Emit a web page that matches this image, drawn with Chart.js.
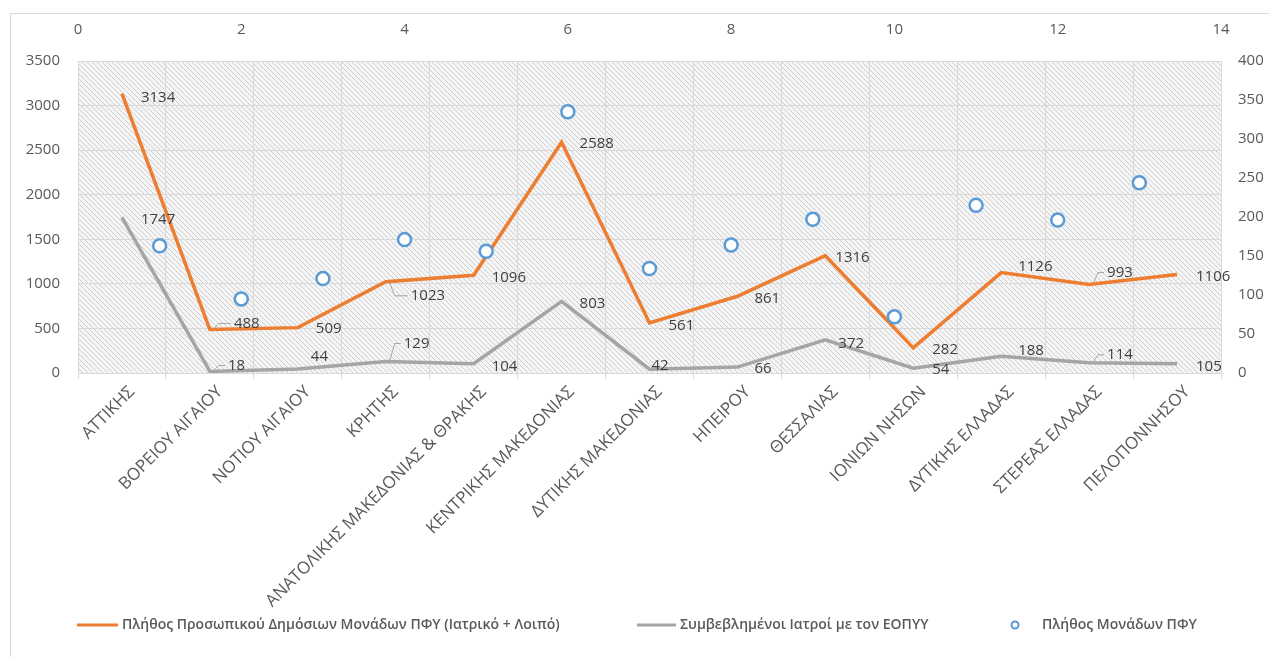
<!DOCTYPE html>
<html lang="el">
<head>
<meta charset="utf-8">
<title>Προσωπικό και Μονάδες ΠΦΥ ανά Περιφέρεια</title>
<script src="https://cdn.jsdelivr.net/npm/chart.js@4.4.1/dist/chart.umd.min.js"></script>
<style>
    html, body { margin: 0; padding: 0; background: #ffffff; }
    #wrap { position: relative; width: 1269px; height: 657px; }
</style>
</head>
<body>
<div id="wrap"><canvas id="pfyChart" width="1269" height="657"></canvas></div>
<script>
// Regions (category axis)
const regions = [
    'ΑΤΤΙΚΗΣ', 'ΒΟΡΕΙΟΥ ΑΙΓΑΙΟΥ', 'ΝΟΤΙΟΥ ΑΙΓΑΙΟΥ', 'ΚΡΗΤΗΣ',
    'ΑΝΑΤΟΛΙΚΗΣ ΜΑΚΕΔΟΝΙΑΣ & ΘΡΑΚΗΣ', 'ΚΕΝΤΡΙΚΗΣ ΜΑΚΕΔΟΝΙΑΣ', 'ΔΥΤΙΚΗΣ ΜΑΚΕΔΟΝΙΑΣ',
    'ΗΠΕΙΡΟΥ', 'ΘΕΣΣΑΛΙΑΣ', 'ΙΟΝΙΩΝ ΝΗΣΩΝ', 'ΔΥΤΙΚΗΣ ΕΛΛΑΔΑΣ', 'ΣΤΕΡΕΑΣ ΕΛΛΑΔΑΣ', 'ΠΕΛΟΠΟΝΝΗΣΟΥ'
];

// Staff of public PHC units (left axis)
const staff = [3134, 488, 509, 1023, 1096, 2588, 561, 861, 1316, 282, 1126, 993, 1106];
// Doctors contracted with EOPYY (left axis)
const contracted = [1747, 18, 44, 129, 104, 803, 42, 66, 372, 54, 188, 114, 105];
// Number of PHC units (right axis, plotted against the top 0-14 axis)
const unitPositions = [1, 2, 3, 4, 5, 6, 7, 8, 9, 10, 11, 12, 13];
const units = [163, 95, 121, 171, 156, 335, 134, 164, 197, 72, 215, 196, 244];

const seriesNames = [
    'Πλήθος Προσωπικού Δημόσιων Μονάδων ΠΦΥ (Ιατρικό + Λοιπό)',
    'Συμβεβλημένοι Ιατροί με τον ΕΟΠΥΥ',
    'Πλήθος Μονάδων ΠΦΥ'
];

// Axis ticks
const leftMax = 3500, leftStep = 500;
const rightMax = 400, rightStep = 50;
const topMax = 14, topStep = 2;

const ORANGE = '#ED7D31';
const GREY = '#A5A5A5';
const BLUE = '#5B9BD5';
const TEXT = '#595959';
const FONT = "'Open Sans', 'Noto Sans', sans-serif";

// Label offsets [dx, dy, leader] next to each point
const staffLabelPos = [
    [19, 4], [24, -6, 1], [18, 1], [25, 14, 1], [18, 2], [18, 1], [19, 3],
    [17, 2], [10, 2], [19, 2], [17, -6], [18, -12, 1], [19, 2]
];
const contractedLabelPos = [
    [19, 2], [18, -6, 1], [13, -12], [18, -18, 1], [18, 3], [18, 2], [2, -4],
    [17, 2], [13, 4], [19, 2], [17, -6], [18, -8, 1], [19, 3]
];

// Diagonal hatch behind the plot area
function makeHatch(ctx) {
    const tile = document.createElement('canvas');
    tile.width = 5;
    tile.height = 5;
    const t = tile.getContext('2d');
    t.fillStyle = '#F5F5F5';
    t.fillRect(0, 0, 5, 5);
    t.strokeStyle = '#CFCFCF';
    t.lineWidth = 1;
    t.beginPath();
    t.moveTo(-1, -1); t.lineTo(6, 6);
    t.moveTo(-1, 4); t.lineTo(1, 6);
    t.moveTo(4, -1); t.lineTo(6, 1);
    t.stroke();
    return ctx.createPattern(tile, 'repeat');
}

const plotBackground = {
    id: 'plotBackground',
    beforeDraw(chart) {
        const { ctx, chartArea: a } = chart;
        ctx.save();
        // outer chart frame
        ctx.strokeStyle = '#D9D9D9';
        ctx.lineWidth = 1;
        ctx.strokeRect(10.5, 13.5, chart.width, chart.height);
        ctx.fillStyle = makeHatch(ctx);
        ctx.fillRect(a.left, a.top, a.right - a.left, a.bottom - a.top);
        ctx.restore();
    }
};

const valueLabels = {
    id: 'valueLabels',
    afterDatasetsDraw(chart) {
        const ctx = chart.ctx;
        const sets = [[0, staff, staffLabelPos], [1, contracted, contractedLabelPos]];
        ctx.save();
        ctx.font = '15px ' + FONT;
        ctx.fillStyle = '#404040';
        ctx.textBaseline = 'middle';
        ctx.textAlign = 'left';
        sets.forEach(([idx, values, pos]) => {
            const meta = chart.getDatasetMeta(idx);
            meta.data.forEach((pt, i) => {
                const [dx, dy, leader] = pos[i];
                const x = pt.x, y = pt.y;
                if (leader) {
                    ctx.strokeStyle = '#A6A6A6';
                    ctx.lineWidth = 1;
                    ctx.beginPath();
                    ctx.moveTo(x + 4, y + Math.sign(dy) * 1);
                    ctx.lineTo(x + 9, y + dy);
                    ctx.lineTo(x + dx - 3, y + dy);
                    ctx.stroke();
                }
                ctx.fillText(String(values[i]), x + dx, y + dy);
            });
        });
        ctx.restore();
    }
};

// Legend drawn along the bottom edge
const bottomLegend = {
    id: 'bottomLegend',
    afterDraw(chart) {
        const ctx = chart.ctx;
        const y = 625;
        ctx.save();
        ctx.font = '600 14px ' + FONT;
        ctx.fillStyle = TEXT;
        ctx.textBaseline = 'middle';

        ctx.strokeStyle = ORANGE;
        ctx.lineWidth = 3;
        ctx.beginPath(); ctx.moveTo(77, y); ctx.lineTo(118, y); ctx.stroke();
        ctx.fillText(seriesNames[0], 122, y);

        ctx.strokeStyle = GREY;
        ctx.beginPath(); ctx.moveTo(637, y); ctx.lineTo(676, y); ctx.stroke();
        ctx.fillText(seriesNames[1], 680, y);

        ctx.strokeStyle = BLUE;
        ctx.lineWidth = 2;
        ctx.beginPath(); ctx.arc(1015, y, 3.5, 0, Math.PI * 2); ctx.stroke();
        ctx.fillText(seriesNames[2], 1042, y);
        ctx.restore();
    }
};

document.addEventListener('DOMContentLoaded', () => {
    const ctx = document.getElementById('pfyChart').getContext('2d');
    const tickFont = { family: FONT, size: 15 };
    const plain = (v) => String(v);

    new Chart(ctx, {
        data: {
            labels: regions,
            datasets: [
                {
                    type: 'line',
                    label: seriesNames[0],
                    data: staff,
                    borderColor: ORANGE,
                    borderWidth: 3.5,
                    pointRadius: 0,
                    tension: 0,
                    xAxisID: 'x',
                    yAxisID: 'y',
                    order: 2
                },
                {
                    type: 'line',
                    label: seriesNames[1],
                    data: contracted,
                    borderColor: GREY,
                    borderWidth: 3.5,
                    pointRadius: 0,
                    tension: 0,
                    xAxisID: 'x',
                    yAxisID: 'y',
                    order: 3
                },
                {
                    type: 'scatter',
                    label: seriesNames[2],
                    data: unitPositions.map((p, i) => ({ x: p, y: units[i] })),
                    borderColor: BLUE,
                    backgroundColor: '#ffffff',
                    borderWidth: 2.5,
                    pointRadius: 6.5,
                    xAxisID: 'x2',
                    yAxisID: 'y2',
                    order: 1
                }
            ]
        },
        options: {
            responsive: false,
            animation: false,
            layout: { padding: { left: 10, top: 13, right: 0, bottom: 0 } },
            plugins: {
                legend: { display: false },
                tooltip: { enabled: false }
            },
            scales: {
                x: {
                    type: 'category',
                    position: 'bottom',
                    offset: true,
                    grid: { offset: true, color: '#D9D9D9', tickLength: 6 },
                    border: { color: '#D9D9D9' },
                    ticks: {
                        color: TEXT,
                        font: { family: FONT, size: 17 },
                        minRotation: 45,
                        maxRotation: 45,
                        autoSkip: false,
                        padding: 3,
                        labelOffset: 10
                    },
                    afterFit(scale) { scale.height = 284; }
                },
                x2: {
                    type: 'linear',
                    position: 'top',
                    min: 0,
                    max: topMax,
                    grid: { display: false },
                    border: { display: false },
                    ticks: { stepSize: topStep, color: TEXT, font: tickFont, padding: 14, callback: plain },
                    afterFit(scale) { scale.height = 48; }
                },
                y: {
                    position: 'left',
                    min: 0,
                    max: leftMax,
                    grid: { color: '#D9D9D9', drawTicks: false },
                    border: { display: false },
                    ticks: { stepSize: leftStep, color: TEXT, font: tickFont, padding: 18, callback: plain },
                    afterFit(scale) { scale.width = 68; }
                },
                y2: {
                    position: 'right',
                    min: 0,
                    max: rightMax,
                    grid: { display: false, drawTicks: false },
                    border: { display: false },
                    ticks: { stepSize: rightStep, color: TEXT, font: tickFont, padding: 17, callback: plain },
                    afterFit(scale) { scale.width = 48; }
                }
            }
        },
        plugins: [plotBackground, valueLabels, bottomLegend]
    });
});
</script>
</body>
</html>
